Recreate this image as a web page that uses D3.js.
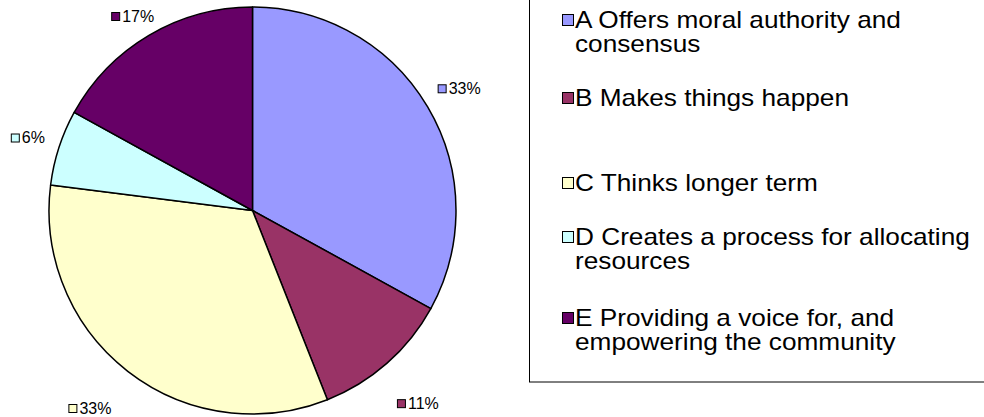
<!DOCTYPE html>
<html>
    <head>
        <meta charset="utf-8">
        <script src="https://d3js.org/d3.v7.min.js"></script>
        <style>
            body { margin: 0; background: #fff; }
            text { font-family: "Liberation Sans", Arial, sans-serif; fill: #000; }
        </style>
    </head>
    <body>
        <script>
            // data
            var categories = ['A', 'B', 'C', 'D', 'E'];
            var values = [33, 11, 33, 6, 17];
            var legendLines = [
                ['A Offers moral authority and', 'consensus'],
                ['B Makes things happen'],
                ['C Thinks longer term'],
                ['D Creates a process for allocating', 'resources'],
                ['E Providing a voice for, and', 'empowering the community']
            ];
            var colors = ['#9999FF', '#993366', '#FFFFCC', '#CCFFFF', '#660066'];

            var width = 984, height = 417;
            var cx = 252.5, cy = 210.5, radius = 203.5;

            // legend first-line centre, as laid out in the original
            var legendY = [20, 98, 183, 237, 318];

            var svg = d3.select('body')
                        .append('svg')
                        .attr('width', width)
                        .attr('height', height);

            var pie = d3.pie().sort(null).value(function(d) { return d.value; });
            var arc = d3.arc().innerRadius(0).outerRadius(radius);

            var data = categories.map(function(c, i) {
                return { cat: c, value: values[i], color: colors[i] };
            });
            var arcs = pie(data);

            var g = svg.append('g')
                        .attr('transform', 'translate(' + cx + ',' + cy + ')');

            g.selectAll('path')
                .data(arcs)
                .enter().append('path')
                    .attr('d', arc)
                    .style('fill', function(d) { return d.data.color; })
                    .style('stroke', '#000')
                    .style('stroke-width', 1.5)
                    .style('stroke-linejoin', 'round');

            // data labels: small swatch + percent, outside the pie
            var labelSize = 16, sw = 8, bh = 16;
            var labels = g.selectAll('g.lbl')
                .data(arcs)
                .enter().append('g')
                    .attr('class', 'lbl');

            labels.each(function(d) {
                var sel = d3.select(this);
                var t = sel.append('text')
                    .attr('font-size', labelSize)
                    .text(d.data.value + '%');
                var tw = t.node().getComputedTextLength();
                var bw = sw + 3 + tw;
                var a = (d.startAngle + d.endAngle) / 2;
                var dx = Math.sin(a), dy = -Math.cos(a);
                var proj = Math.abs(dx) * bw / 2 + Math.abs(dy) * bh / 2;
                // lower labels sit further out, like the original
                var rr = radius + proj + 14 + 26 * Math.max(0, dy);
                var mx = dx * rr - 6 * Math.max(0, dy), my = dy * rr;
                // keep inside the picture
                my = Math.max(16 - cy, Math.min(height - 9 - cy, my));
                var left = mx - bw / 2;
                sel.insert('rect', 'text')
                    .attr('x', left + 0.5)
                    .attr('y', my - sw / 2 + 0.5)
                    .attr('width', sw)
                    .attr('height', sw)
                    .style('fill', d.data.color)
                    .style('stroke', '#000')
                    .style('stroke-width', 1);
                t.attr('x', left + sw + 3)
                 .attr('y', my)
                 .attr('dy', '0.35em');
            });

            // legend
            svg.append('rect')
                .attr('x', 529.5)
                .attr('y', -1)
                .attr('width', 470)
                .attr('height', 383)
                .style('fill', 'none')
                .style('stroke', '#000')
                .style('stroke-width', 1);

            var legendSize = 23, lineH = 24;
            var items = svg.selectAll('g.leg')
                .data(data)
                .enter().append('g')
                    .attr('class', 'leg')
                    .attr('transform', function(d, i) { return 'translate(562,' + legendY[i] + ')'; });

            items.append('rect')
                .attr('x', 0.5)
                .attr('y', -5.5)
                .attr('width', 11)
                .attr('height', 11)
                .style('fill', function(d) { return d.color; })
                .style('stroke', '#000')
                .style('stroke-width', 1);

            // the original's legend text is a little wider than Liberation Sans
            items.append('text')
                .attr('transform', 'translate(13,0) scale(1.14,1)')
                .attr('font-size', legendSize)
                .selectAll('tspan')
                .data(function(d, i) { return legendLines[i]; })
                .enter().append('tspan')
                    .attr('x', 0)
                    .attr('y', function(d, j) { return j * lineH; })
                    .attr('dy', '0.35em')
                    .text(function(d) { return d; });
        </script>
    </body>
</html>
